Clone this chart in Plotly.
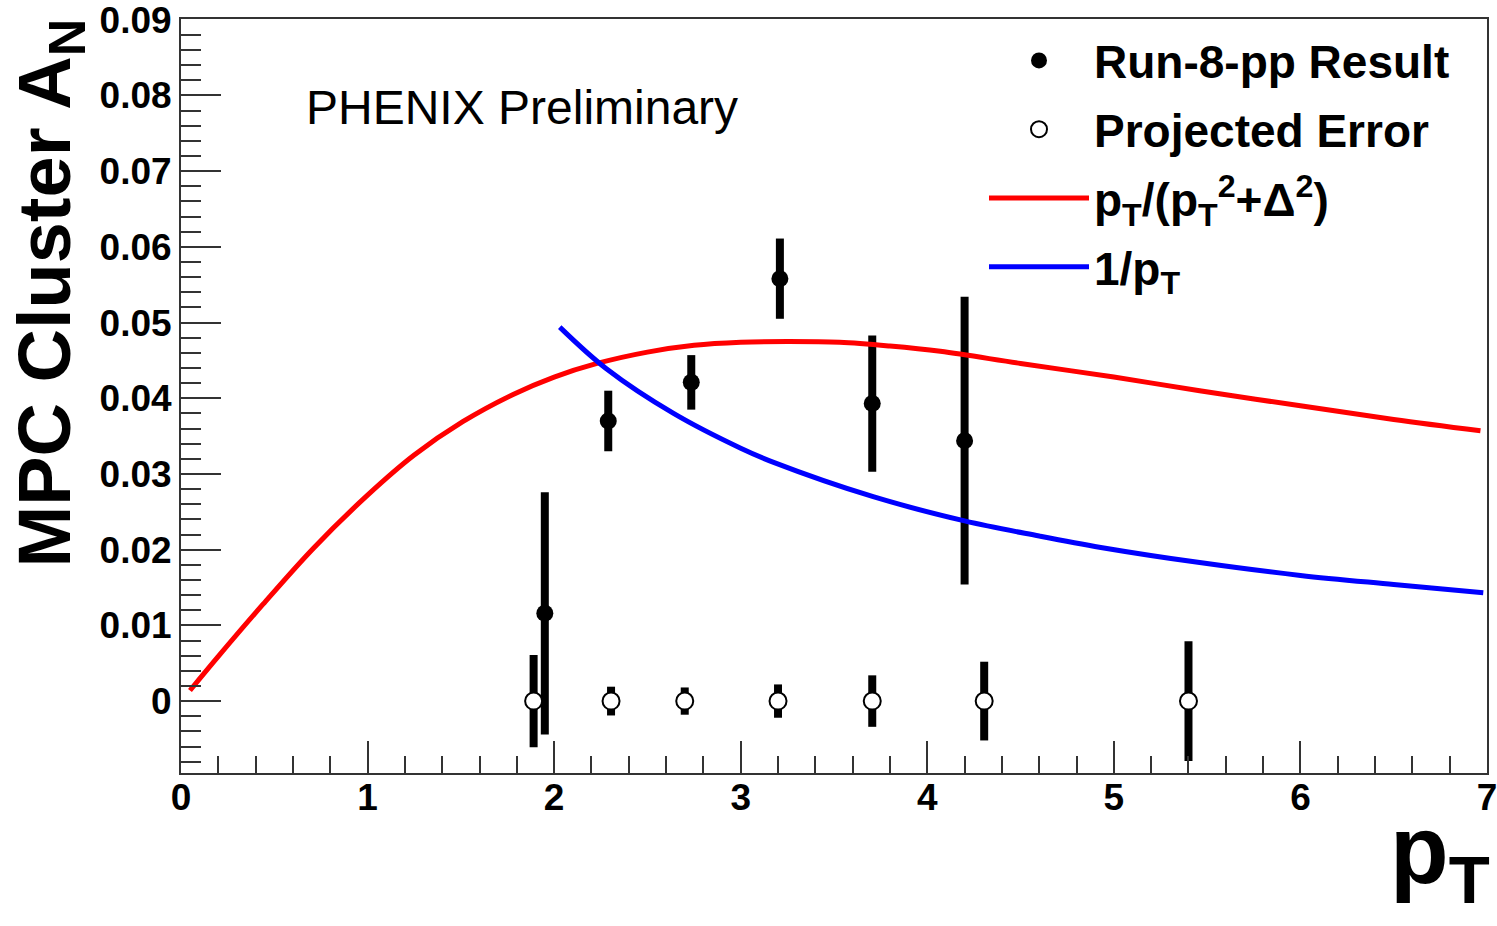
import plotly.graph_objects as go

# ---- data ----
run8_x = [1.95, 2.29, 2.735, 3.21, 3.705, 4.20]
run8_y = [0.0116, 0.0370, 0.0421, 0.0558, 0.0393, 0.0344]
run8_err = [0.0160, 0.0040, 0.0036, 0.0053, 0.0090, 0.0190]

proj_x = [1.89, 2.305, 2.70, 3.20, 3.705, 4.305, 5.40]
proj_y = [0.0, 0.0, 0.0, 0.0, 0.0, 0.0, 0.0]
proj_err = [0.0061, 0.0019, 0.0018, 0.0022, 0.0034, 0.0052, 0.0079]

red_x = [0.048, 0.21, 0.44, 0.71, 1.0, 1.25, 1.51, 1.78, 2.0, 2.23, 2.5, 2.75,
         3.0, 3.25, 3.53, 3.8, 4.07, 4.5, 5.0, 5.46, 6.0, 6.5, 6.965]
red_y = [0.0014, 0.0062, 0.0128, 0.0202, 0.0272, 0.0325, 0.0369, 0.0405, 0.0428,
         0.0446, 0.0461, 0.0470, 0.0474, 0.0475, 0.0474, 0.0469, 0.0462, 0.0446,
         0.0428, 0.0410, 0.0390, 0.0372, 0.0357]

blue_x = [2.03, 2.28, 2.64, 3.0, 3.18, 3.71, 4.20, 4.6, 4.93, 5.46, 6.0, 6.5, 6.98]
blue_y = [0.0494, 0.0439, 0.0380, 0.0334, 0.0315, 0.0270, 0.0238, 0.0218, 0.0203,
          0.0183, 0.0166, 0.0154, 0.0143]

x_range = [0, 7]
y_range = [-0.0095, 0.0901]

# ---- layout geometry (pixels) ----
W, H = 1497, 926
ML, MR, MT, MB = 181, 10, 19, 153
PW = W - ML - MR
PH = H - MT - MB


def px(xp):
    return (xp - ML) / PW


def py(yp):
    return (H - MB - yp) / PH


FONT = "Liberation Sans, Arial, sans-serif"

fig = go.Figure()

fig.add_trace(go.Scatter(
    x=run8_x, y=run8_y, mode="markers", name="Run-8-pp Result",
    legendgroup="a",
    marker=dict(symbol="circle", size=17, color="black"),
    error_y=dict(type="data", array=run8_err, visible=True, color="black",
                 thickness=8, width=0),
))
fig.add_trace(go.Scatter(
    x=proj_x, y=proj_y, mode="markers", name="Projected Error",
    legendgroup="b",
    marker=dict(symbol="circle", size=17, color="white",
                line=dict(color="black", width=2)),
    error_y=dict(type="data", array=proj_err, visible=True, color="black",
                 thickness=8, width=0),
))
fig.add_trace(go.Scatter(
    x=red_x, y=red_y, mode="lines", legendgroup="c",
    name="p<sub>T</sub>/(p<sub>T</sub><sup>2</sup>+Δ<sup>2</sup>)",
    line=dict(color="#ff0000", width=5, shape="spline"),
))
fig.add_trace(go.Scatter(
    x=blue_x, y=blue_y, mode="lines", legendgroup="d",
    name="1/p<sub>T</sub>",
    line=dict(color="#0000ff", width=5, shape="spline"),
))

axis_common = dict(
    showline=True, linecolor="#333333", linewidth=2, mirror=True,
    ticks="inside", tickcolor="#333333", tickwidth=2,
    showgrid=False, zeroline=False, automargin=False,
    ticklabeloverflow="allow",
    tickfont=dict(family=FONT, size=37, color="black", weight="bold"),
)

fig.update_xaxes(range=x_range, tick0=0, dtick=1, ticklen=32,
                 ticklabelstandoff=-9,
                 minor=dict(dtick=0.2, ticklen=17, ticks="inside",
                            tickcolor="#333333", tickwidth=2),
                 **axis_common)
fig.update_yaxes(range=y_range, tick0=0, dtick=0.01, ticklen=40,
                 minor=dict(dtick=0.002, ticklen=20, ticks="inside",
                            tickcolor="#333333", tickwidth=2),
                 **axis_common)

fig.add_annotation(
    text="PHENIX Preliminary", xref="paper", yref="paper",
    x=px(304), y=py(108), xanchor="left", yanchor="middle", showarrow=False,
    font=dict(family=FONT, size=48, color="black"),
)
fig.add_annotation(
    text="<b>MPC Cluster A<sub>N</sub></b>", xref="paper", yref="paper",
    x=px(0), y=py(17), xanchor="left", yanchor="top", showarrow=False,
    textangle=-90,
    font=dict(family=FONT, size=74, color="black"),
)
fig.add_annotation(
    text="<b>p<sub>T</sub></b>", xref="paper", yref="paper",
    x=px(1492), y=py(919), xanchor="right", yanchor="bottom", showarrow=False,
    font=dict(family=FONT, size=96, color="black"),
)

fig.update_layout(
    width=W, height=H,
    margin=dict(l=ML, r=MR, t=MT, b=MB, autoexpand=False),
    paper_bgcolor="white", plot_bgcolor="white",
    showlegend=True,
    legend=dict(
        x=px(984), y=py(24), xanchor="left", yanchor="top",
        bgcolor="rgba(255,255,255,0)", borderwidth=0,
        font=dict(family=FONT, size=46, color="black", weight="bold"),
        tracegroupgap=6, itemwidth=100,
    ),
)

fig.write_html(
    "out.html",
    config={"displayModeBar": False},
    post_script="document.body.style.margin='0';document.body.style.overflow='hidden';",
)
